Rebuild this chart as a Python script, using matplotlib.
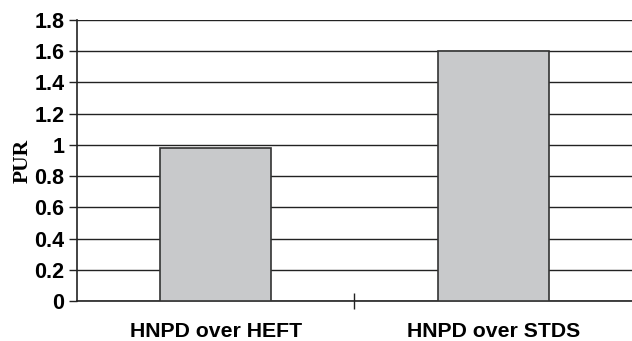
import matplotlib
import matplotlib.pyplot as plt
from matplotlib.ticker import FixedLocator

matplotlib.use("Agg")

categories = ["HNPD over HEFT", "HNPD over STDS"]
pur_values = [0.98, 1.60]
y_ticks = [0, 0.2, 0.4, 0.6, 0.8, 1.0, 1.2, 1.4, 1.6, 1.8]
y_tick_labels = ["0", "0.2", "0.4", "0.6", "0.8", "1", "1.2", "1.4", "1.6", "1.8"]

fig = plt.figure(figsize=(6.32, 3.41), dpi=100)
ax = fig.add_axes([0.1218, 0.1173, 0.8782, 0.824])

x = list(range(len(categories)))
ax.bar(x, pur_values, width=0.4, color="#c8c9cb", edgecolor="#333333",
       linewidth=1.2, zorder=3)

ax.set_xlim(-0.5, 1.5)
ax.set_ylim(0, 1.8)
ax.set_yticks(y_ticks)
ax.set_yticklabels(y_tick_labels, fontfamily="Liberation Sans",
                   fontweight="bold", fontsize=15.5)
ax.set_xticks(x)
ax.set_xticklabels(categories, fontfamily="Liberation Sans",
                   fontweight="bold", fontsize=15.3)
ax.tick_params(axis="x", which="major", length=0, pad=15)
ax.xaxis.set_minor_locator(FixedLocator([0.5]))
ax.tick_params(axis="x", which="minor", direction="inout", length=12,
               width=1, color="#222222")
ax.tick_params(axis="y", direction="out", length=6, width=1,
               color="#222222", pad=3)

ax.yaxis.grid(True, color="#222222", linewidth=1.0, zorder=0)
ax.set_axisbelow(True)

for side in ["top", "right"]:
    ax.spines[side].set_visible(False)
ax.spines["left"].set_color("#222222")
ax.spines["bottom"].set_color("#222222")
ax.spines["left"].set_linewidth(1.2)
ax.spines["bottom"].set_linewidth(1.2)

ax.set_ylabel("PUR", fontfamily="Liberation Serif", fontweight="bold",
              fontsize=15.5, labelpad=1)

fig.savefig("out.png", dpi=100)
plt.close(fig)
